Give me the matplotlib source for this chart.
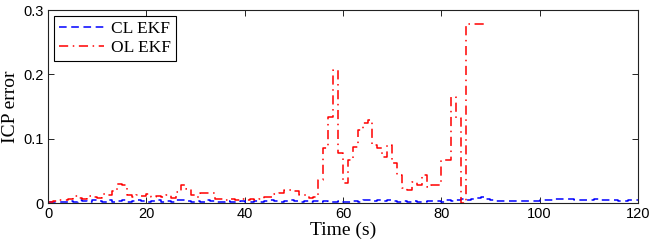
import numpy as np
import matplotlib
matplotlib.use("Agg")
import matplotlib.pyplot as plt

# ICP error per second (steps)
t_ol = np.arange(0, 90)
ol_ekf = [0.002, 0.003, 0.004, 0.004, 0.006, 0.011, 0.008, 0.006, 0.011, 0.010,
          0.008, 0.014, 0.012, 0.019, 0.029, 0.028, 0.012, 0.010, 0.013, 0.011,
          0.014, 0.010, 0.011, 0.009, 0.012, 0.008, 0.017, 0.028, 0.022, 0.012,
          0.010, 0.015, 0.015, 0.016, 0.006, 0.007, 0.005, 0.006, 0.004, 0.007,
          0.005, 0.006, 0.005, 0.007, 0.010, 0.010, 0.014, 0.016, 0.020, 0.020,
          0.019, 0.013, 0.012, 0.008, 0.010, 0.036, 0.086, 0.134, 0.207, 0.078,
          0.031, 0.067, 0.087, 0.113, 0.125, 0.129, 0.090, 0.085, 0.072, 0.090,
          0.062, 0.044, 0.023, 0.020, 0.033, 0.028, 0.044, 0.025, 0.028, 0.028,
          0.067, 0.067, 0.165, 0.132, 0.000, 0.278, 0.278, 0.278, 0.278, 0.278]

t_cl = np.arange(0, 121)
cl_ekf = [0.001, 0.001, 0.002, 0.002, 0.003, 0.002, 0.004, 0.003, 0.002, 0.004,
          0.003, 0.002, 0.004, 0.002, 0.003, 0.004, 0.002, 0.003, 0.004, 0.003,
          0.002, 0.003, 0.004, 0.002, 0.003, 0.002, 0.004, 0.005, 0.003, 0.002,
          0.003, 0.002, 0.004, 0.003, 0.002, 0.002, 0.003, 0.002, 0.002, 0.003,
          0.002, 0.002, 0.003, 0.002, 0.003, 0.004, 0.003, 0.002, 0.003, 0.004,
          0.003, 0.002, 0.003, 0.002, 0.003, 0.002, 0.003, 0.002, 0.002, 0.003,
          0.002, 0.002, 0.003, 0.002, 0.004, 0.004, 0.003, 0.004, 0.003, 0.004,
          0.003, 0.002, 0.003, 0.002, 0.003, 0.002, 0.002, 0.003, 0.003, 0.003,
          0.002, 0.004, 0.003, 0.004, 0.007, 0.004, 0.006, 0.008, 0.009, 0.006,
          0.004, 0.003, 0.003, 0.003, 0.003, 0.003, 0.003, 0.003, 0.003, 0.003,
          0.004, 0.004, 0.005, 0.007, 0.006, 0.006, 0.007, 0.005, 0.004, 0.004,
          0.005, 0.006, 0.004, 0.004, 0.005, 0.004, 0.003, 0.003, 0.004, 0.004,
          0.004]

plt.rcParams['font.family'] = ['Liberation Sans', 'DejaVu Sans']

fig = plt.figure(figsize=(6.54, 2.47), dpi=100)
ax = fig.add_axes([0.0734, 0.178, 0.9021, 0.7815])

ax.plot(t_cl, cl_ekf, '--', color='#0000ff', lw=1.1, drawstyle='steps-post',
        label='CL EKF', dashes=(5, 3))
ax.plot(t_ol, ol_ekf, '-.', color='#ff0000', lw=1.1, drawstyle='steps-post',
        label='OL EKF', dashes=(6, 3, 1, 3))

ax.set_xlim(0, 120)
ax.set_ylim(0, 0.3)
ax.set_xticks([0, 20, 40, 60, 80, 100, 120])
ax.set_yticks([0, 0.1, 0.2, 0.3])
ax.set_yticklabels(['0', '0.1', '0.2', '0.3'])
ax.tick_params(direction='in', top=True, right=True, labelsize=10.5, length=4,
               width=0.6, pad=3)
for s in ax.spines.values():
    s.set_linewidth(0.8)
    s.set_color('#222222')

ax.set_xlabel('Time (s)', family='Liberation Serif', fontsize=14, labelpad=0)
ax.set_ylabel('ICP error', family='Liberation Serif', fontsize=14, labelpad=3)

leg = ax.legend(loc='upper left', prop={'family': 'Liberation Serif', 'size': 12.5},
                fancybox=False, edgecolor='black', framealpha=1,
                borderaxespad=0.35, handlelength=2.6, labelspacing=0.15,
                borderpad=0.28, handletextpad=0.4)
leg.get_frame().set_linewidth(0.8)

fig.savefig('out.png', dpi=100)
